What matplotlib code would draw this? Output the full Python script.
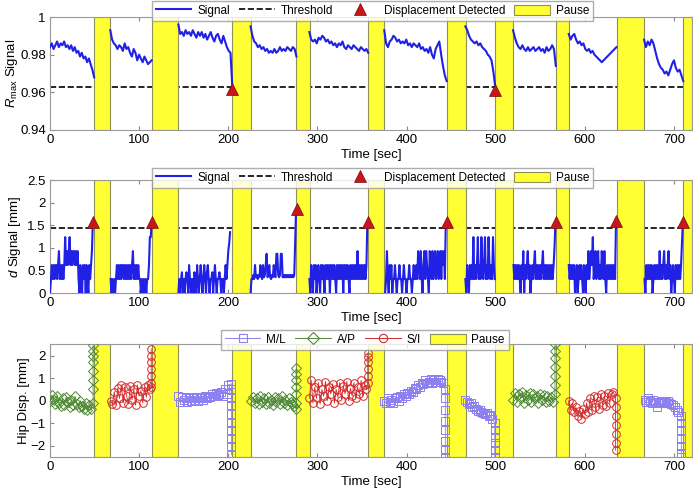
import numpy as np
import matplotlib.pyplot as plt
from matplotlib.patches import Patch
from matplotlib.lines import Line2D

plt.rcParams['font.family'] = ['Liberation Sans', 'DejaVu Sans']
plt.rcParams['mathtext.fontset'] = 'custom'
plt.rcParams['mathtext.rm'] = 'Liberation Sans'
plt.rcParams['mathtext.it'] = 'Liberation Sans:italic'

# pause intervals [sec]
pauses = [(49.7, 67.6), (114.1, 143.9), (204.5, 225.2), (276.3, 291.3), (357.1, 375.0),
          (445.0, 466.3), (499.6, 519.7), (567.3, 582.2), (635.7, 666.7), (710.4, 720.0)]

# ---- Rmax signal (top) ----
rmax_start = [0, 67.6, 144, 225, 291, 375, 466, 519.5, 582, 666.5]
rmax_end = [49.5, 114, 204.5, 276.5, 357, 445, 499.5, 567.5, 635.5, 710.5]
rmax_vals = [
    [0.984, 0.986, 0.983, 0.985, 0.987, 0.984, 0.986, 0.985, 0.987, 0.984, 0.985, 0.983, 0.985,
     0.982, 0.984, 0.981, 0.982, 0.979, 0.981, 0.978, 0.979, 0.976, 0.978, 0.975, 0.972, 0.968],
    [0.993, 0.988, 0.986, 0.985, 0.983, 0.985, 0.984, 0.982, 0.986, 0.983, 0.984, 0.981, 0.979,
     0.983, 0.981, 0.977, 0.980, 0.978, 0.976, 0.979, 0.977, 0.975, 0.976, 0.977],
    [0.996, 0.991, 0.992, 0.990, 0.993, 0.991, 0.992, 0.990, 0.993, 0.991, 0.989, 0.992, 0.990,
     0.992, 0.989, 0.991, 0.988, 0.990, 0.992, 0.989, 0.987, 0.990, 0.991, 0.988, 0.986, 0.990,
     0.987, 0.984, 0.982, 0.981, 0.963],
    [0.995, 0.990, 0.987, 0.986, 0.984, 0.985, 0.983, 0.984, 0.982, 0.983, 0.981, 0.982, 0.981,
     0.983, 0.981, 0.982, 0.984, 0.982, 0.983, 0.982, 0.984, 0.983, 0.982, 0.984, 0.983, 0.979],
    [0.992, 0.988, 0.987, 0.988, 0.986, 0.989, 0.988, 0.990, 0.989, 0.987, 0.988, 0.986, 0.987,
     0.985, 0.986, 0.984, 0.986, 0.985, 0.987, 0.984, 0.983, 0.985, 0.984, 0.983, 0.985, 0.984,
     0.983, 0.982, 0.984, 0.983, 0.982, 0.983, 0.981],
    [0.993, 0.986, 0.984, 0.987, 0.988, 0.990, 0.989, 0.987, 0.988, 0.986, 0.987, 0.986, 0.988,
     0.985, 0.986, 0.984, 0.986, 0.985, 0.984, 0.986, 0.983, 0.984, 0.982, 0.983, 0.981, 0.984,
     0.980, 0.978, 0.983, 0.985, 0.987, 0.980, 0.974, 0.969, 0.966],
    [0.995, 0.993, 0.990, 0.988, 0.987, 0.986, 0.987, 0.985, 0.986, 0.984, 0.983, 0.982, 0.980,
     0.979, 0.977, 0.971, 0.963],
    [0.993, 0.989, 0.986, 0.984, 0.983, 0.985, 0.983, 0.982, 0.984, 0.982, 0.983, 0.984, 0.982,
     0.983, 0.984, 0.982, 0.983, 0.981, 0.984, 0.982, 0.983, 0.985, 0.983, 0.974],
    [0.991, 0.988, 0.990, 0.991, 0.988, 0.986, 0.987, 0.985, 0.986, 0.983, 0.982, 0.983, 0.981,
     0.982, 0.980, 0.979, 0.978, 0.977, 0.976, 0.977, 0.978, 0.979, 0.980, 0.981, 0.982, 0.983, 0.984],
    [0.988, 0.984, 0.987, 0.985, 0.988, 0.986, 0.982, 0.978, 0.975, 0.973, 0.972, 0.970, 0.971,
     0.969, 0.972, 0.975, 0.977, 0.973, 0.971, 0.972, 0.969, 0.966],
]
rmax_thr = 0.963
rmax_det_t = [204.5, 499.2]
rmax_det_y = [0.962, 0.961]

# ---- d signal (middle), 1 s samples ----
d_start = [0, 68, 144, 225, 291, 376, 466, 520, 582, 667]
d_vals = [
    [0, 0.31, 0.62, 0.31, 0.62, 0.31, 0.62, 0.62, 0.31, 0.62, 0.93, 0.31, 0.62, 0.31, 0.62, 0.31,
     0.62, 1.24, 0.62, 0.93, 0.62, 0.93, 1.24, 0.62, 0.93, 0.62, 0.93, 0.93, 0.62, 0.93, 0.62, 0.93,
     0.31, 0, 0.62, 0.31, 0, 0.62, 0.31, 0.62, 0, 0.62, 0.31, 0, 0.62, 0.31, 0.62, 0.93, 1.55],
    [0.31, 0, 0.31, 0, 0.31, 0, 0.31, 0.62, 0.31, 0.62, 0.31, 0.62, 0.31, 0.62, 0.62, 0.31, 0.62,
     0.31, 0.62, 0.31, 0.62, 0.31, 0.62, 0.31, 0.62, 0.93, 0.31, 0.62, 0.31, 0.62, 0.31, 0.62, 0.31,
     0.31, 0, 0.31, 0, 0.31, 0, 0.31, 0, 0.31, 0.31, 0.62, 1.24, 1.24, 1.55],
    [0, 0.31, 0, 0.31, 0.46, 0, 0.31, 0, 0.31, 0.46, 0.31, 0, 0.62, 0.31, 0, 0.31, 0.31, 0, 0.46,
     0.31, 0, 0.62, 0.31, 0, 0.31, 0.62, 0.31, 0, 0.31, 0.62, 0.31, 0, 0.46, 0.62, 0.31, 0, 0.31,
     0.31, 0.46, 0, 0.31, 0.62, 0.31, 0, 0.31, 0.31, 0.46, 0.31, 0, 0.31, 0.31, 0, 0.31, 0.62, 0.31,
     0.62, 0.93, 1.1, 1.35],
    [0, 0.31, 0.31, 0.4, 0.31, 0.62, 0.35, 0.4, 0.31, 0.4, 0.35, 0.62, 0.4, 0.31, 0.62, 0.35, 0.4,
     0.62, 0.87, 0.35, 0.4, 0.62, 0.35, 0.31, 0.4, 0.35, 0.62, 0.4, 0.35, 0.87, 0.87, 0.4, 0.35, 0.4,
     0.87, 0.87, 0.35, 0.4, 0.35, 0.4, 0.35, 0.4, 0.35, 0.4, 0.35, 0.4, 0.35, 0.4, 0.35, 0.4, 1.1, 1.85],
    [0.31, 0, 0.62, 0.31, 0, 0.62, 0.31, 0.62, 0, 0.31, 0.62, 0.31, 0, 0.62, 0.31, 0.62, 0.31, 0,
     0.62, 0.31, 0.62, 0.31, 0.62, 0, 0.62, 0.31, 0.62, 0.31, 0.62, 0.31, 0, 0.62, 0.31, 0.62, 0.31,
     0.62, 0.31, 0.62, 0, 0.62, 0.31, 0.62, 0.31, 0.62, 0.31, 0, 0.62, 0.31, 0.62, 0.31, 0.62, 0.31,
     0.62, 0.31, 0.93, 0.31, 0.62, 0.31, 0.62, 0.31, 0.62, 0.31, 0.62, 0.31, 0.62, 1.55],
    [0, 0.31, 0.93, 0.31, 0, 0.62, 0.31, 0.62, 0, 0.31, 0.31, 0.62, 0.31, 0, 0.31, 0.31, 0.62, 0.31,
     0.31, 0, 0.31, 0.62, 0.31, 0.31, 0, 0.31, 0.31, 0.62, 0.31, 0.31, 0, 0.31, 0.62, 0.31, 0.31,
     0.62, 0.31, 0.93, 0.62, 0.31, 0.93, 0.31, 0, 0.62, 0.93, 0.31, 0.93, 0.62, 0.31, 0, 0.93, 0.62,
     0.31, 0.93, 0.31, 0.62, 0.93, 0.31, 0.62, 0.93, 0.31, 0.62, 0.93, 0.31, 0.93, 0.62, 0.93, 0.31,
     1.55],
    [0.31, 0, 0.62, 0.31, 0, 0.62, 0.31, 0.62, 0.31, 1.24, 0.31, 0.62, 0.31, 0.62, 1.24, 0.31, 0.62,
     0.31, 1.24, 0.62, 0.31, 0.62, 1.24, 0.31, 0.62, 0.31, 1.24, 0.62, 0.31, 0.62, 0.31, 1.24, 0.62,
     0.31],
    [0.62, 0.31, 0.62, 0.31, 0.62, 0.31, 0.62, 0.31, 0, 0.62, 0.31, 0.93, 0, 0.62, 0.31, 0.62, 0.93,
     0.31, 0.62, 0, 0.31, 0.62, 0.31, 0.62, 0.93, 0.31, 0.62, 0.31, 0.62, 0.31, 0.62, 0.31, 0.62,
     0.93, 0.31, 0.62, 0.31, 0.62, 0.31, 0.62, 0.31, 0.62, 0.31, 0.62, 0.31, 0.62, 1.0, 1.55],
    [0.62, 0.31, 0.62, 0.31, 0.62, 0.31, 0.62, 0, 0.31, 0.62, 0, 0.31, 0.62, 0.31, 0.62, 0.31, 0,
     0.62, 0.31, 0, 0.62, 0.31, 0.93, 0.31, 0.62, 0.93, 0.62, 1.24, 0.31, 0.62, 0.93, 0.31, 0.62,
     0.93, 0.31, 0.62, 0.31, 0.93, 0.62, 0.31, 0.93, 0.31, 0, 0.62, 0.31, 0.62, 0.31, 0.62, 0.31,
     0.62, 0.31, 0.62, 0.31, 1.6],
    [0.31, 0, 0.62, 0.31, 0.62, 0.31, 0.62, 0.31, 0.62, 0, 0.31, 0.62, 0.31, 0.62, 0.31, 0.62, 0.31,
     0.93, 0.31, 0.62, 0.31, 0.62, 0.93, 0.31, 0.62, 0.31, 0.62, 0.93, 0.31, 0.62, 0, 0.31, 0.62,
     0.31, 0, 0.62, 0.31, 0.62, 0.31, 0.62, 0.31, 0.62, 1.1, 1.55],
]
d_thr = 1.45
d_det_t = [48.6, 114.1, 276.8, 357.0, 445.0, 567.6, 635.0, 710.4]
d_det_y = [1.57, 1.57, 1.87, 1.57, 1.57, 1.57, 1.6, 1.57]

# ---- hip displacement (bottom), 2 s samples plus final column ----
hip_dir = ['A/P', 'S/I', 'M/L', 'A/P', 'S/I', 'M/L', 'M/L', 'A/P', 'S/I', 'M/L']
hip_start = [0, 68, 144, 226, 291, 375, 466, 520, 582, 667]
hip_end_t = [48.3, 113.5, 203.5, 276.3, 356.5, 443.5, 499.0, 566.5, 634.5, 708.3]
hip_vals = [
    [0, 0.25, 0.05, -0.15, 0.2, -0.1, -0.25, 0.1, -0.2, 0.15, -0.05, -0.3, 0.05, -0.2, 0.2, -0.15,
     -0.3, 0, -0.25, -0.35, -0.1, -0.4, -0.2, -0.35],
    [0, -0.15, 0.4, -0.2, 0.55, 0.1, 0.7, -0.1, 0.6, 0.2, -0.15, 0.65, 0.05, 0.5, -0.2, 0.7, 0.2,
     0.45, -0.1, 0.6, 0.15, 0.7, 0.5],
    [0.2, -0.05, 0.15, 0.05, 0.1, -0.05, 0.15, 0, 0.1, 0.05, 0.15, 0, 0.1, 0.15, 0.05, 0.2, 0.1,
     0.2, 0.15, 0.3, 0.2, 0.35, 0.25, 0.3, 0.4, 0.2, 0.5, 0.3, 0.7],
    [0, 0.15, -0.1, 0.1, -0.15, 0.2, -0.05, 0.1, -0.15, 0.15, -0.1, 0.05, -0.2, 0.15, -0.05, 0.1,
     -0.15, 0.2, -0.1, 0.05, -0.2, 0.1, -0.05, -0.15, -0.25],
    [0.1, 0.9, -0.1, 0.6, 0.1, 0.8, -0.15, 0.5, 0.2, 0.85, 0, 0.6, 0.3, 0.75, -0.1, 0.5, 0.15, 0.8,
     0.05, 0.65, 0.3, 0.85, 0, 0.55, 0.2, 0.8, 0.1, 0.6, 0.3, 0.9, 0.2, 0.7, 0.5],
    [0, -0.1, 0.1, -0.05, 0.05, -0.1, 0.1, 0.15, 0, 0.2, 0.1, 0.3, 0.2, 0.35, 0.3, 0.45, 0.4, 0.55,
     0.5, 0.7, 0.6, 0.8, 0.75, 0.9, 0.8, 0.85, 0.95, 0.8, 0.9, 0.85, 0.95, 0.9, 0.85, 0.8],
    [0.05, -0.05, -0.15, -0.1, -0.3, -0.25, -0.35, -0.45, -0.4, -0.5, -0.55, -0.6, -0.55, -0.7,
     -0.65, -0.8],
    [0.05, 0.35, -0.05, 0.3, 0.1, 0.4, -0.1, 0.25, 0.05, 0.35, -0.05, 0.3, 0.1, 0.2, -0.1, 0.3, 0.05,
     0.25, -0.05, 0.2, 0, 0.15, -0.05],
    [0, -0.4, -0.1, -0.5, -0.3, -0.7, -0.45, -0.8, -0.35, -0.6, -0.1, -0.5, 0.1, -0.4, 0.2, -0.3,
     0.15, -0.35, 0.3, -0.2, 0.2, -0.25, 0.35, -0.1, 0.3, 0.4],
    [0.05, -0.05, 0.1, 0, -0.1, 0.05, -0.05, -0.3, -0.1, 0, -0.05, -0.1, -0.05, 0, -0.1, -0.15, -0.2,
     -0.3, -0.4, -0.5],
]
hip_end_vals = [
    [-0.1, 0.5, 0.9, 1.3, 1.7, 2.0, 2.2, 2.45],
    [0.6, 0.8, 1.1, 1.4, 1.7, 2.0, 2.3],
    [0.75, 0.5, 0.1, -0.2, -0.6, -1.0, -1.3, -1.7, -2.0, -2.4],
    [-0.35, -0.1, 0.3, 0.6, 0.9, 1.2, 1.45],
    [0.8, 1.1, 1.4, 1.7, 1.95, 2.1],
    [0.5, 0.1, -0.4, -0.9, -1.3, -1.8, -2.2, -2.5],
    [-1.0, -1.3, -1.6, -1.9, -2.2, -2.5],
    [0.3, 0.7, 1.1, 1.5, 1.9, 2.2, 2.5],
    [0.1, -0.3, -0.7, -1.1, -1.5, -1.9, -2.2],
    [-0.7, -1.0, -1.3, -1.7, -2.0, -2.3, -2.5],
]

sig_color = '#2121e6'
tri_color = '#c8161d'
pause_color = '#ffff33'
pause_edge = '#8f8f5a'
hip_style = {'M/L': ('s', '#8c7ff0'), 'A/P': ('D', '#4f8a35'), 'S/I': ('o', '#d42a2a')}
xmax = 720

fig = plt.figure(figsize=(6.93, 4.90), dpi=100)
ax1 = fig.add_axes([0.0722, 0.7347, 0.926, 0.2306])
ax2 = fig.add_axes([0.0722, 0.4020, 0.926, 0.2300])
ax3 = fig.add_axes([0.0722, 0.0673, 0.926, 0.2300])


def add_pauses(ax):
    for a, b in pauses:
        ax.axvspan(a, b, facecolor=pause_color, edgecolor=pause_edge, lw=0.8, zorder=2)


def style(ax):
    ax.set_xlim(0, xmax)
    ax.set_xticks(range(0, 701, 100))
    ax.tick_params(direction='in', length=3, top=True, right=True, labelsize=9.5,
                   color='#888888', pad=3)
    for s in ax.spines.values():
        s.set_color('#999999')
        s.set_linewidth(0.8)
    ax.set_xlabel('Time [sec]', fontsize=9.5, labelpad=2)


pause_handle = Patch(facecolor=pause_color, edgecolor=pause_edge, lw=0.8)
sig_handle = Line2D([], [], color=sig_color, lw=1.5)
thr_handle = Line2D([], [], color='black', ls='--', lw=1.2)
det_handle = Line2D([], [], ls='none', marker='^', markersize=8, color=tri_color,
                    markeredgecolor='#7a0a0a', markeredgewidth=0.5)
leg_kw = dict(ncol=4, loc='center', fontsize=8.5, frameon=True, fancybox=False,
              edgecolor='#999999', handlelength=3.0, handleheight=1.0, handletextpad=0.5,
              columnspacing=0.8, borderpad=0.35, borderaxespad=0)

# top panel
for t0, t1, v in zip(rmax_start, rmax_end, rmax_vals):
    ax1.plot(np.linspace(t0, t1, len(v)), v, color=sig_color, lw=1.5, zorder=3)
ax1.axhline(rmax_thr, color='black', ls='--', lw=1.2, zorder=1)
add_pauses(ax1)
ax1.plot(rmax_det_t, rmax_det_y, ls='none', marker='^', markersize=9, color=tri_color,
         markeredgecolor='#7a0a0a', markeredgewidth=0.5, zorder=4, clip_on=False)
ax1.set_ylim(0.94, 1.0)
ax1.set_yticks([0.94, 0.96, 0.98, 1.0])
ax1.set_yticklabels(['0.94', '0.96', '0.98', '1'])
style(ax1)
ax1.set_ylabel(r'$R_{\mathrm{max}}$ Signal', fontsize=9.5)
ax1.yaxis.set_label_coords(-0.047, 0.5)
fig.legend([sig_handle, thr_handle, det_handle, pause_handle],
           ['Signal', 'Threshold', 'Displacement Detected', 'Pause'],
           bbox_to_anchor=(0.5375, 0.9776), **leg_kw)

# middle panel
for t0, v in zip(d_start, d_vals):
    ax2.plot(t0 + np.arange(len(v)), v, color=sig_color, lw=1.5, zorder=3)
ax2.axhline(d_thr, color='black', ls='--', lw=1.2, zorder=1)
add_pauses(ax2)
ax2.plot(d_det_t, d_det_y, ls='none', marker='^', markersize=9, color=tri_color,
         markeredgecolor='#7a0a0a', markeredgewidth=0.5, zorder=4)
ax2.set_ylim(0, 2.5)
ax2.set_yticks([0, 0.5, 1, 1.5, 2, 2.5])
ax2.set_yticklabels(['0', '0.5', '1', '1.5', '2', '2.5'])
style(ax2)
ax2.set_ylabel(r'$d$ Signal [mm]', fontsize=9.5)
ax2.yaxis.set_label_coords(-0.042, 0.5)
fig.legend([sig_handle, thr_handle, det_handle, pause_handle],
           ['Signal', 'Threshold', 'Displacement Detected', 'Pause'],
           bbox_to_anchor=(0.5375, 0.637), **leg_kw)

# bottom panel
add_pauses(ax3)
for name, t0, te, v, ve in zip(hip_dir, hip_start, hip_end_t, hip_vals, hip_end_vals):
    mk, col = hip_style[name]
    t = np.concatenate([t0 + 2 * np.arange(len(v)), np.full(len(ve), te)])
    y = np.concatenate([v, ve])
    ax3.plot(t, y, color=col, lw=0.6, marker=mk, markersize=5.5 if mk != 'D' else 5,
             markerfacecolor='none', markeredgewidth=0.7, zorder=3)
ax3.set_ylim(-2.5, 2.5)
ax3.set_yticks([-2, -1, 0, 1, 2])
style(ax3)
ax3.set_ylabel('Hip Disp. [mm]', fontsize=9.5)
ax3.yaxis.set_label_coords(-0.031, 0.5)
hip_handles = [Line2D([], [], color=hip_style[k][1], lw=0.7, marker=hip_style[k][0],
                      markersize=6, markerfacecolor='none', markeredgewidth=0.8)
               for k in ['M/L', 'A/P', 'S/I']]
fig.legend(hip_handles + [pause_handle], ['M/L', 'A/P', 'S/I', 'Pause'],
           bbox_to_anchor=(0.5265, 0.3064), **leg_kw)

fig.savefig('out.png', dpi=100)
